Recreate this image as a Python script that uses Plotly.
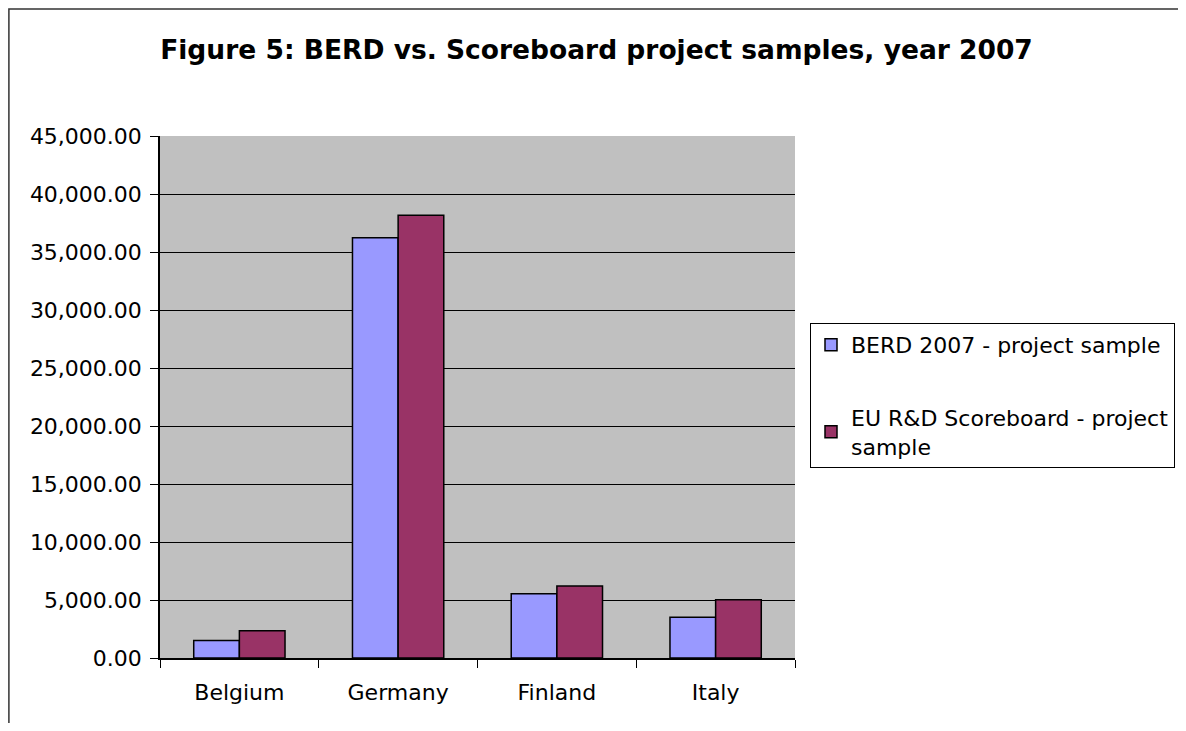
import plotly.graph_objects as go

countries = ["Belgium", "Germany", "Finland", "Italy"]
berd = [1510, 36230, 5540, 3520]
scoreboard = [2340, 38170, 6200, 5020]
series_names = ["BERD 2007 - project sample", "EU R&D Scoreboard - project<br>sample"]
y_ticks = [0, 5000, 10000, 15000, 20000, 25000, 30000, 35000, 40000, 45000]

FONT = "DejaVu Sans, Liberation Sans, Arial, sans-serif"
W, H = 1170, 715

fig = go.Figure()
fig.add_trace(go.Bar(x=countries, y=berd, name=series_names[0], legendgroup="a",
                     marker=dict(color="#9999FF", line=dict(color="black", width=1.5))))
fig.add_trace(go.Bar(x=countries, y=scoreboard, name=series_names[1], legendgroup="b",
                     marker=dict(color="#993366", line=dict(color="black", width=1.5))))

# the page adds an 8px body margin; size the figure so no scrollbars appear
fig.update_layout(
    width=W, height=H,
    margin=dict(l=152, r=383, t=128, b=65),
    paper_bgcolor="white", plot_bgcolor="#C0C0C0",
    font=dict(family=FONT, size=22, color="black"),
    title=dict(text="<b>Figure 5: BERD vs. Scoreboard project samples, year 2007</b>",
               x=0.503, xanchor="center", y=0.941, yanchor="middle",
               font=dict(size=26.5, family=FONT)),
    barmode="group", bargap=0.425, bargroupgap=0,
    showlegend=True,
    legend=dict(xref="container", yref="container",
                x=(810 - 8) / W, xanchor="left", y=1 - (323 - 8) / H, yanchor="top",
                bordercolor="black", borderwidth=1, bgcolor="white",
                font=dict(size=22, family=FONT), tracegroupgap=41,
                itemwidth=30),
    xaxis=dict(showline=True, linecolor="black", linewidth=1.5, ticks="outside",
               tickson="boundaries", ticklen=8, tickcolor="black", tickwidth=1,
               showgrid=False, tickfont=dict(size=22), ticklabelstandoff=14),
    yaxis=dict(range=[0, 45000], tickvals=y_ticks, tickformat=",.2f",
               showline=True, linecolor="black", linewidth=1.5, ticks="outside",
               ticklen=8, tickcolor="black", showgrid=True, gridcolor="black",
               gridwidth=1, zeroline=False, tickfont=dict(size=22),
               ticklabelstandoff=4),
    shapes=[dict(type="rect", xref="paper", yref="paper",
                 x0=(8.9 - 160) / 635, x1=(1400 - 160) / 635,
                 y0=(658 - 900) / 522, y1=(658 - 8.9) / 522,
                 line=dict(color="#333333", width=1.5), fillcolor="rgba(0,0,0,0)", layer="below")],
)

fig.write_html("out.html")
